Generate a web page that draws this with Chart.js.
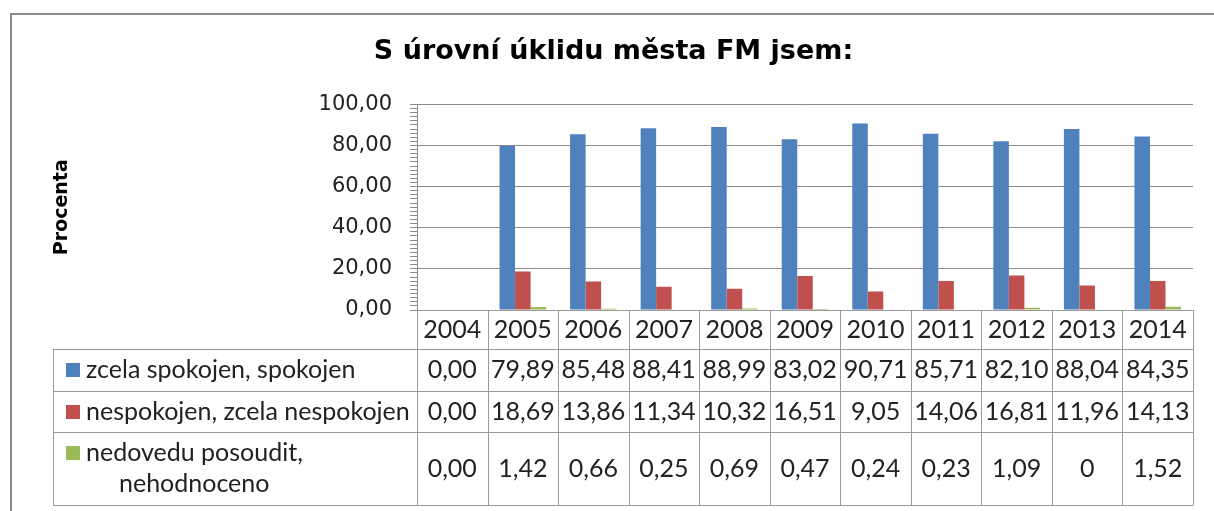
<!DOCTYPE html>
<html>
<head>
<meta charset="utf-8">
<script src="https://cdn.jsdelivr.net/npm/chart.js@4"></script>
<style>
    html, body { margin: 0; padding: 0; background: #fff; }
    #wrap { width: 1214px; height: 511px; }
</style>
</head>
<body>
<div id="wrap"><canvas id="chart"></canvas></div>
<script>
// Data
const years = ['2004', '2005', '2006', '2007', '2008', '2009', '2010', '2011', '2012', '2013', '2014'];
const spokojen = [0.00, 79.89, 85.48, 88.41, 88.99, 83.02, 90.71, 85.71, 82.10, 88.04, 84.35];
const nespokojen = [0.00, 18.69, 13.86, 11.34, 10.32, 16.51, 9.05, 14.06, 16.81, 11.96, 14.13];
const nedovedu = [0.00, 1.42, 0.66, 0.25, 0.69, 0.47, 0.24, 0.23, 1.09, 0, 1.52];
// cells that the source table prints without decimals
const plainCells = [[2, 9]];
const seriesNames = [['zcela spokojen, spokojen'], ['nespokojen, zcela nespokojen'], ['nedovedu posoudit,', 'nehodnoceno']];
const colors = ['#4f81bd', '#c0504d', '#9bbb59'];
const titleText = 'S úrovní úklidu města FM jsem:';

const LINE = '#9a9a9a';
const TEXT = '#222';
const TABLE_FONT = '25px Lato';

function fmt(v, s, i) {
    if (plainCells.some(c => c[0] === s && c[1] === i)) return String(v);
    return v.toFixed(2).replace('.', ',');
}

const frame = {
    id: 'frame',
    beforeDraw(chart) {
        const ctx = chart.ctx;
        ctx.save();
        ctx.strokeStyle = '#8a8a8a';
        ctx.lineWidth = 2;
        ctx.strokeRect(11, 14, 1300, 600);
        ctx.restore();
    }
};

const dataTable = {
    id: 'dataTable',
    afterDraw(chart) {
        const ctx = chart.ctx;
        const area = chart.chartArea;
        const n = years.length;
        const w = area.width / n;
        const rows = [area.bottom, 349, 391, 432, 505];
        const left = 53;

        ctx.save();
        ctx.strokeStyle = LINE;
        ctx.lineWidth = 1;
        ctx.beginPath();
        // horizontal lines
        ctx.moveTo(area.left, Math.round(rows[0]) + 0.5);
        ctx.lineTo(area.right, Math.round(rows[0]) + 0.5);
        for (let r = 1; r < rows.length; r++) {
            ctx.moveTo(left, rows[r] + 0.5);
            ctx.lineTo(area.right, rows[r] + 0.5);
        }
        // vertical lines
        for (let i = 0; i <= n; i++) {
            const x = Math.round(area.left + i * w) + 0.5;
            ctx.moveTo(x, rows[0]);
            ctx.lineTo(x, rows[4] + 0.5);
        }
        ctx.moveTo(left + 0.5, rows[1]);
        ctx.lineTo(left + 0.5, rows[4] + 0.5);
        ctx.stroke();

        ctx.fillStyle = TEXT;
        ctx.font = TABLE_FONT;
        ctx.textBaseline = 'middle';
        ctx.textAlign = 'center';
        const xs = years.map((y, i) => chart.scales.x.getPixelForValue(i));

        // header
        const hy = (rows[0] + rows[1]) / 2;
        years.forEach((y, i) => ctx.fillText(y, xs[i], hy));

        // series rows
        const values = [spokojen, nespokojen, nedovedu];
        values.forEach((vals, s) => {
            const cy = (rows[s + 1] + rows[s + 2]) / 2;
            ctx.textAlign = 'center';
            vals.forEach((v, i) => ctx.fillText(fmt(v, s, i), xs[i], cy));

            // legend key + label
            const lines = seriesNames[s];
            const firstY = lines.length > 1 ? cy - 16 : cy;
            ctx.fillStyle = colors[s];
            ctx.fillRect(66, Math.round(firstY - 7), 14, 14);
            ctx.fillStyle = TEXT;
            ctx.textAlign = 'left';
            ctx.fillText(lines[0], 86, firstY);
            if (lines.length > 1) {
                ctx.fillText(lines[1], 119, cy + 15);
            }
        });
        ctx.restore();
    }
};

new Chart(document.getElementById('chart'), {
    type: 'bar',
    data: {
        labels: years,
        datasets: [
            { label: seriesNames[0].join(' '), data: spokojen, backgroundColor: colors[0] },
            { label: seriesNames[1].join(' '), data: nespokojen, backgroundColor: colors[1] },
            { label: seriesNames[2].join(' '), data: nedovedu, backgroundColor: colors[2] }
        ]
    },
    options: {
        responsive: true,
        maintainAspectRatio: false,
        animation: false,
        datasets: {
            bar: { categoryPercentage: 0.66, barPercentage: 1.0 }
        },
        layout: {
            padding: { left: 34, top: 0, right: 21, bottom: 201 }
        },
        plugins: {
            legend: { display: false },
            tooltip: { enabled: false },
            title: {
                display: true,
                text: titleText,
                color: '#000',
                font: { family: 'DejaVu Sans', size: 27, weight: 'bold' },
                padding: { top: 36, bottom: 36 }
            }
        },
        scales: {
            x: {
                display: false
            },
            y: {
                min: 0,
                max: 100,
                afterFit(scale) { scale.width = 383; },
                ticks: {
                    stepSize: 2,
                    autoSkip: false,
                    padding: 18,
                    color: TEXT,
                    font: { family: 'DejaVu Sans', size: 21 },
                    callback: (v) => v % 20 === 0 ? v.toFixed(2).replace('.', ',') : ''
                },
                grid: {
                    color: (c) => c.tick && c.tick.value % 20 === 0 ? '#8c8c8c' : 'rgba(0,0,0,0)',
                    tickColor: '#8c8c8c',
                    tickLength: 7
                },
                border: { color: '#8c8c8c' },
                title: {
                    display: true,
                    text: 'Procenta',
                    color: '#000',
                    font: { family: 'DejaVu Sans', size: 19, weight: 'bold' },
                    padding: { top: 17, bottom: 0 }
                }
            }
        }
    },
    plugins: [frame, dataTable]
});
</script>
</body>
</html>
